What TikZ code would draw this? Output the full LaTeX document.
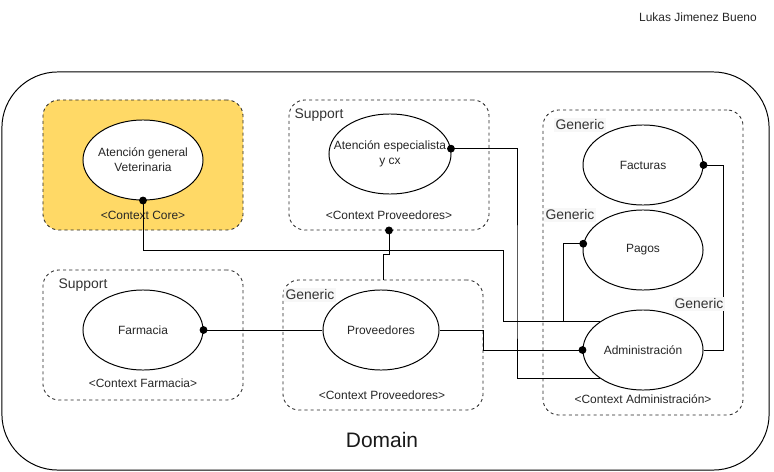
\documentclass[tikz,border=0pt]{standalone}
\usepackage{fontspec}
\setmainfont{Liberation Sans}
\usetikzlibrary{positioning,shapes.geometric,arrows.meta}
\definecolor{corefill}{HTML}{FFD966}
\tikzset{
  ctx/.style={draw=black!85, dash pattern=on 2.2pt off 2.2pt, rounded corners=0.4cm, minimum width=5cm, minimum height=3.25cm, line width=0.6pt},
  bc/.style={draw, ellipse, fill=white, minimum width=3cm, minimum height=2cm, inner sep=0pt, line width=0.7pt},
  bctxt/.style={font=\fontsize{8.5}{10.5}\selectfont, align=center, text=black!85},
  tag/.style={font=\fontsize{9.9}{12}\selectfont, text=black!80, inner sep=1pt},
  gentag/.style={tag, fill=black!3},
  lnk/.style={line width=0.7pt},
  dotstart/.style={lnk, {Circle[length=5.5pt]}-, shorten <=-2.75pt},
  dotend/.style={lnk, -{Circle[length=5.5pt]}, shorten >=-2.75pt},
}
\begin{document}
\begin{tikzpicture}[x=0.025cm, y=-0.025cm]
\useasboundingbox (0,0) rectangle (774,472);

\node[draw, rounded corners=1.4cm, minimum width=19.175cm, minimum height=9.95cm, line width=0.7pt] (domain) at (385.5,271) {};
\node[font=\fontsize{14.9}{17}\selectfont, text=black!90] (domaintxt) at (382,440) {Domain};
\node[bctxt] (author) at (698,17) {Lukas Jimenez Bueno};

% contexts
\node[ctx, fill=corefill] (core) at (143,165) {};
\node[ctx] (supA) at (389,165) {};
\node[ctx, minimum height=7.625cm] (gadm) at (643,262.5) {};
\node[ctx] (supF) at (143,335) {};
\node[ctx] (gprov) at (383,345) {};

\node[tag] (supAtag) at (319,115) {Support};
\node[gentag] (gadmtag) at (580,125) {Generic};
\node[gentag] (pagtag) at (570,215) {Generic};
\node[tag] (supFtag) at (83,285) {Support};
\node[gentag] (gprovtag) at (310,295) {Generic};

\node[bctxt] (corename) at (143,215) {<Context Core>};
\node[bctxt] (supAname) at (389,215) {<Context Proveedores>};
\node[bctxt] (supFname) at (143,383) {<Context Farmacia>};
\node[bctxt] (gprovname) at (382,395) {<Context Proveedores>};
\node[bctxt] (gadmname) at (643,399) {<Context Administración>};

% bounded contexts
\node[bc, label={[bctxt]center:{Atención general\\Veterinaria}}] (vet) at (143,160) {};
\node[bc, minimum width=3.05cm, label={[bctxt]center:{Atención especialista\\y cx}}] (esp) at (390,154) {};
\node[bc, label={[bctxt]center:Facturas}] (fact) at (643,165) {};
\node[bc, label={[bctxt]center:Pagos}] (pagos) at (643,250) {};
\node[bc, label={[bctxt]center:Administración}] (admin) at (643,350) {};
\node[bc, label={[bctxt]center:Farmacia}] (farm) at (143,330) {};
\node[bc, minimum width=2.9cm, label={[bctxt]center:Proveedores}] (prov) at (381,330) {};

% links
\draw[dotstart] (vet.south) |- (503,250) |- (admin.147);
\draw[dotstart] (pagos.174) -- ++(-20,0) |- (admin.147);
\draw[dotstart] (esp.5) -| (517,300) |- (admin.213);
\draw[dotstart] (farm.east) -- (prov.west);
\draw[dotend] (prov.east) -- ++(44,0) |- (admin.west);
\draw[dotstart] (fact.east) -- ++(20,0) |- (admin.east);
\draw[dotstart] (supA.south) -- ++(0,24) -| (gprov.north);

\node[gentag] (admtag) at (699,304) {Generic};
\end{tikzpicture}
\end{document}
